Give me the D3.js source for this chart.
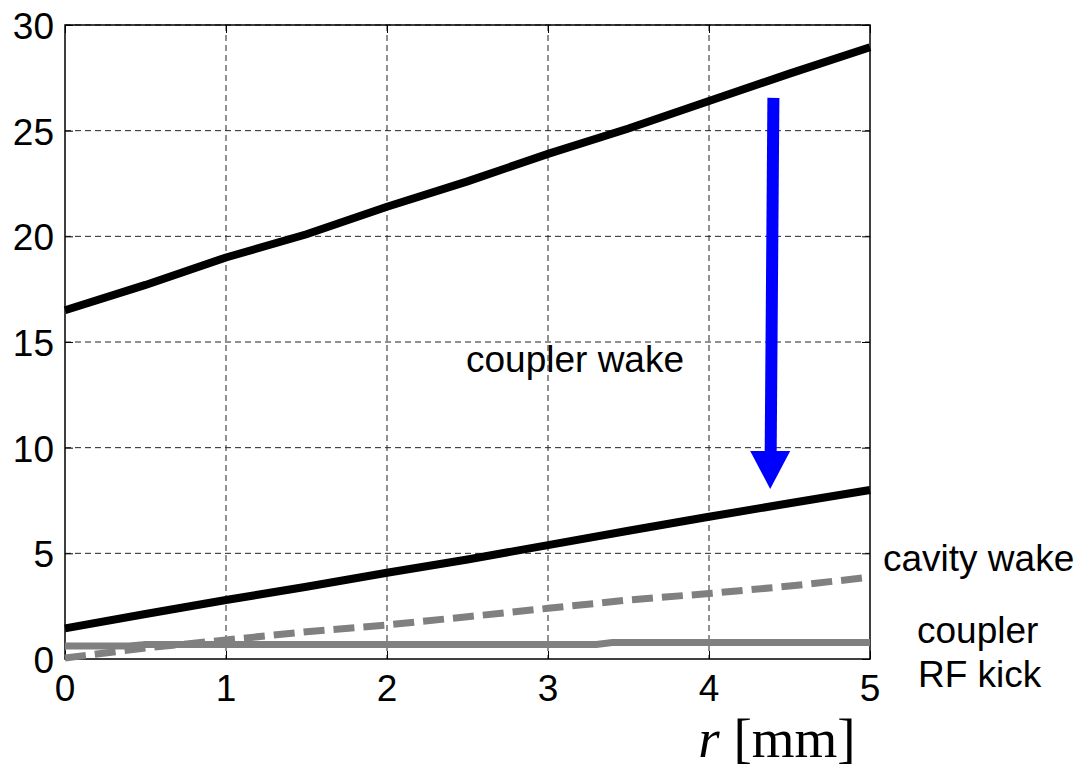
<!DOCTYPE html>
<html>
<head>
<meta charset="utf-8">
<script src="https://cdn.jsdelivr.net/npm/d3@7"></script>
<style>
  body{margin:0;background:#fff;}
  svg text{font-family:"Liberation Sans",Arial,sans-serif;}
</style>
</head>
<body>
<svg id="chart" width="1081" height="768"></svg>
<script>
/* data */
var xTicks = [0, 1, 2, 3, 4, 5];
var yTicks = [0, 5, 10, 15, 20, 25, 30];
var rValues = [0, 0.5, 1, 1.5, 2, 2.5, 3, 3.5, 4, 4.5, 5];
var couplerWake = [16.5, 17.7, 19.0, 20.1, 21.4, 22.6, 23.9, 25.1, 26.4, 27.7, 28.95];
var cavityWake = [1.45, 2.13, 2.79, 3.42, 4.08, 4.71, 5.39, 6.07, 6.73, 7.37, 8.0];
var cavityDash = [0.05, 0.52, 0.9, 1.29, 1.61, 2.0, 2.4, 2.79, 3.1, 3.45, 3.87];
var rfKickR = [0, 0.4, 0.5, 3.3, 3.4, 5];
var rfKick = [0.62, 0.62, 0.69, 0.69, 0.78, 0.78];
var arrowFrom = [4.40, 26.55];
var arrowTo = [4.38, 8.05];

var svg = d3.select("#chart"),
    margin = {top: 25, right: 211, bottom: 109, left: 65},
    width = +svg.attr("width") - margin.left - margin.right,
    height = +svg.attr("height") - margin.top - margin.bottom;

var x = d3.scaleLinear().domain([0, 5]).range([0, width]);
var y = d3.scaleLinear().domain([0, 30]).range([height, 0]);

var g = svg.append("g").attr("transform", "translate(" + margin.left + "," + margin.top + ")");

// grid
g.append("g").selectAll("line").data(xTicks.slice(1, -1)).enter().append("line")
  .attr("x1", x).attr("x2", x).attr("y1", 0).attr("y2", height)
  .attr("stroke", "#222").attr("stroke-width", 1).attr("stroke-dasharray", "6,4");
g.append("g").selectAll("line").data(yTicks.slice(1)).enter().append("line")
  .attr("y1", y).attr("y2", y).attr("x1", 0).attr("x2", width)
  .attr("stroke", "#222").attr("stroke-width", 1).attr("stroke-dasharray", "6,4");

// axes, matlab style ticks inside
g.append("g").attr("transform", "translate(0," + height + ")")
  .call(d3.axisBottom(x).tickValues(xTicks).tickSize(-8).tickFormat(""))
  .call(function(a){ a.select(".domain").remove(); });
g.append("g")
  .call(d3.axisTop(x).tickValues(xTicks).tickSize(-8).tickFormat(""))
  .call(function(a){ a.select(".domain").remove(); });
g.append("g")
  .call(d3.axisLeft(y).tickValues(yTicks).tickSize(-8).tickFormat(""))
  .call(function(a){ a.select(".domain").remove(); });
g.append("g").attr("transform", "translate(" + width + ",0)")
  .call(d3.axisRight(y).tickValues(yTicks).tickSize(-8).tickFormat(""))
  .call(function(a){ a.select(".domain").remove(); });
g.selectAll(".tick line").attr("stroke", "#000");

g.append("rect").attr("width", width).attr("height", height)
  .attr("fill", "none").attr("stroke", "#000").attr("stroke-width", 1.5);

// tick labels
g.append("g").selectAll("text").data(xTicks).enter().append("text")
  .attr("x", x).attr("y", height + 42).attr("text-anchor", "middle")
  .attr("font-size", 37).text(function(d){ return d; });
g.append("g").selectAll("text").data(yTicks).enter().append("text")
  .attr("x", -11).attr("y", function(d){ return y(d) + 14; }).attr("text-anchor", "end")
  .attr("font-size", 37).text(function(d){ return d; });

// curves
var line = d3.line().x(function(d){ return x(d[0]); }).y(function(d){ return y(d[1]); });
function pts(xs, ys){ return xs.map(function(v, i){ return [v, ys[i]]; }); }

g.append("path").datum(pts(rfKickR, rfKick)).attr("d", line)
  .attr("fill", "none").attr("stroke", "#808080").attr("stroke-width", 7);
g.append("path").datum(pts(rValues, cavityDash)).attr("d", line)
  .attr("fill", "none").attr("stroke", "#808080").attr("stroke-width", 7).attr("stroke-dasharray", "21,9");
g.append("path").datum(pts(rValues, cavityWake)).attr("d", line)
  .attr("fill", "none").attr("stroke", "#000").attr("stroke-width", 8);
g.append("path").datum(pts(rValues, couplerWake)).attr("d", line)
  .attr("fill", "none").attr("stroke", "#000").attr("stroke-width", 8);

// blue arrow
var ax0 = x(arrowFrom[0]), ay0 = y(arrowFrom[1]), ax1 = x(arrowTo[0]), ay1 = y(arrowTo[1]);
var headLen = 38, headW = 20;
g.append("line").attr("x1", ax0).attr("y1", ay0).attr("x2", ax1 + 0.5).attr("y2", ay1 - headLen + 1)
  .attr("stroke", "#0000ff").attr("stroke-width", 12);
g.append("path")
  .attr("d", "M" + (ax1 - headW) + "," + (ay1 - headLen) + "L" + (ax1 + headW) + "," + (ay1 - headLen) + "L" + ax1 + "," + ay1 + "Z")
  .attr("fill", "#0000ff");

// annotations
svg.append("text").attr("x", 466).attr("y", 372).attr("font-size", 37).text("coupler wake");
svg.append("text").attr("x", 883).attr("y", 571).attr("font-size", 37).text("cavity wake");
svg.append("text").attr("x", 917).attr("y", 643).attr("font-size", 37).text("coupler");
svg.append("text").attr("x", 918).attr("y", 687).attr("font-size", 37).text("RF kick");

// x label
var xl = svg.append("text").attr("x", 777).attr("y", 757).attr("text-anchor", "middle")
  .style("font-family", "'Liberation Serif','Times New Roman',serif").attr("font-size", 55);
xl.append("tspan").attr("font-style", "italic").text("r");
xl.append("tspan").text(" [mm]");
</script>
</body>
</html>
